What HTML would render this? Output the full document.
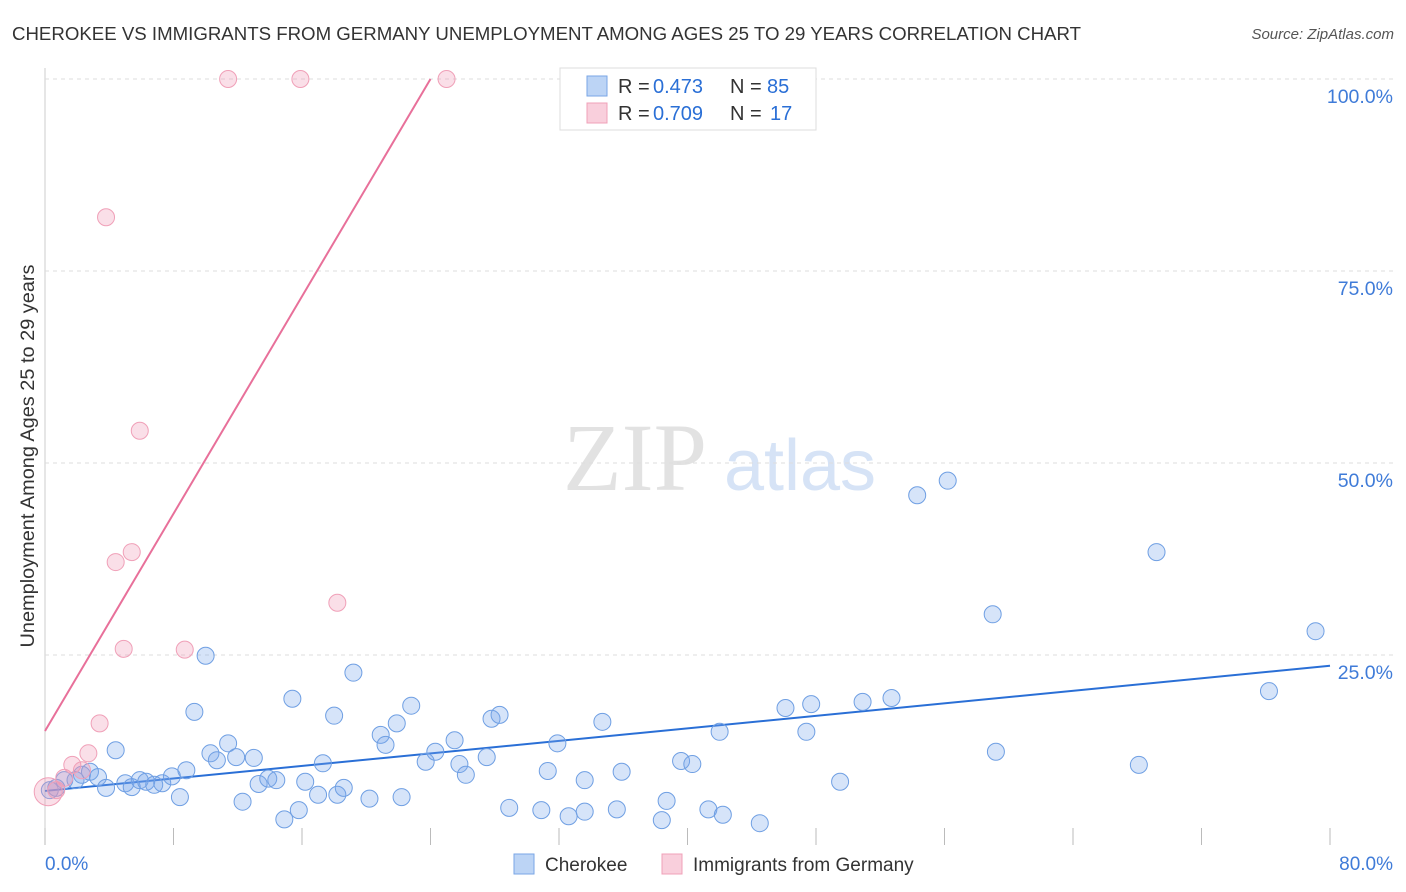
<!DOCTYPE html>
<html><head><meta charset="utf-8"><style>
body{margin:0;background:#fff;font-family:"Liberation Sans",sans-serif;}
svg{display:block}
</style></head><body>
<svg id="chart" width="1406" height="892">
<text x="12" y="40" font-size="18" fill="#333" textLength="1069" lengthAdjust="spacingAndGlyphs">CHEROKEE VS IMMIGRANTS FROM GERMANY UNEMPLOYMENT AMONG AGES 25 TO 29 YEARS CORRELATION CHART</text>
<text x="1394" y="39" font-size="15" fill="#555" font-style="italic" text-anchor="end">Source: ZipAtlas.com</text>
<g>
<text x="635" y="490" font-size="96" font-family="Liberation Serif,serif" fill="#e2e2e2" text-anchor="middle">ZIP</text>
<text x="800" y="490" font-size="72" fill="#d6e3f6" text-anchor="middle">atlas</text>
</g>
<text transform="translate(34,456) rotate(-90)" font-size="19" fill="#333" text-anchor="middle" textLength="383" lengthAdjust="spacingAndGlyphs">Unemployment Among Ages 25 to 29 years</text>
<g id="grid"></g><g id="ticks"></g><g id="trend"></g><g id="dots"></g>
<g>
<rect x="560" y="68" width="256" height="62" fill="#fff" stroke="#ddd"/>
<rect x="587" y="76" width="20" height="20" fill="#bcd4f5" stroke="#7aa6e6"/>
<text x="618" y="93" font-size="20" fill="#333">R =</text>
<text x="653" y="93" font-size="20" fill="#2a6fd6">0.473</text>
<text x="730" y="93" font-size="20" fill="#333">N =</text>
<text x="767" y="93" font-size="20" fill="#2a6fd6">85</text>
<rect x="587" y="103" width="20" height="20" fill="#f9cfdc" stroke="#f0a0b8"/>
<text x="618" y="120" font-size="20" fill="#333">R =</text>
<text x="653" y="120" font-size="20" fill="#2a6fd6">0.709</text>
<text x="730" y="120" font-size="20" fill="#333">N =</text>
<text x="770" y="120" font-size="20" fill="#2a6fd6">17</text>
</g>
<g>
<rect x="514" y="854" width="20" height="20" fill="#bcd4f5" stroke="#7aa6e6"/>
<text x="545" y="871" font-size="19" fill="#333">Cherokee</text>
<rect x="662" y="854" width="20" height="20" fill="#f9cfdc" stroke="#f0a0b8"/>
<text x="693" y="871" font-size="19" fill="#333">Immigrants from Germany</text>
</g>
</svg>
<script>
const blueX=[0.3,0.7,1.2,1.9,2.3,2.8,3.3,3.8,4.4,5.0,5.4,5.9,6.3,6.8,7.3,7.9,8.4,8.8,9.3,10.0,10.3,10.7,11.4,11.9,12.3,13.0,13.3,13.9,14.4,14.9,15.4,15.8,16.2,17.0,17.3,18.0,18.2,18.6,19.2,20.2,20.9,21.2,21.9,22.2,22.8,23.7,24.3,25.5,25.8,26.2,27.5,27.8,28.3,28.9,30.9,31.3,31.9,32.6,33.6,33.6,34.7,35.6,35.9,38.4,38.7,39.6,40.3,41.3,42.0,42.2,44.5,46.1,47.4,47.7,49.5,50.9,52.7,54.3,56.2,59.0,59.2,68.1,69.2,76.2,79.1];
const blueY=[7.4,7.7,8.7,8.7,9.4,9.8,9.1,7.7,12.6,8.3,7.8,8.7,8.5,8.1,8.3,9.2,6.5,10.0,17.6,24.9,12.2,11.3,13.5,11.7,5.9,11.6,8.2,8.9,8.7,3.6,19.3,4.8,8.5,6.8,10.9,17.1,6.8,7.7,22.7,6.3,14.6,13.3,16.1,6.5,18.4,11.1,12.4,13.9,10.8,9.4,11.7,16.7,17.2,5.1,4.8,9.9,13.5,4.0,4.6,8.7,16.3,4.9,9.8,3.5,6.0,11.2,10.8,4.9,15.0,4.2,3.1,18.1,15.0,18.6,8.5,18.9,19.4,45.8,47.7,30.3,12.4,10.7,38.4,20.3,28.1];
const pinkX=[0.2,0.7,1.2,1.7,2.3,2.7,3.4,3.8,4.4,4.9,5.4,5.9,8.7,11.4,15.9,18.2,25.0];
const pinkY=[7.2,7.4,9.0,10.7,10.0,12.2,16.1,82.0,37.1,25.8,38.4,54.2,25.7,100,100,31.8,100];
const blueTrend=[[0,7.3],[80,23.6]];
const pinkTrend=[[0,15.1],[24,100]];
const yTicks=[25,50,75,100];
const xTickVals=[0,8,16,24,32,40,48,56,64,72,80];
const X=v=>45+v*(1285/80), Y=v=>847-v*7.68;
const NS="http://www.w3.org/2000/svg";
function mk(tag,attrs,parent){const e=document.createElementNS(NS,tag);for(const k in attrs)e.setAttribute(k,attrs[k]);document.getElementById(parent).appendChild(e);return e;}
mk('line',{x1:45,y1:68,x2:45,y2:845,stroke:'#ccc'},'grid');
yTicks.forEach(t=>{
 const l=mk('line',{x1:45,x2:1394,y1:Y(t),y2:Y(t),stroke:'#ddd','stroke-dasharray':'4,4'},'grid');
 
 
 const tx=mk('text',{x:1393,y:Y(t)+24,'font-size':19.5,fill:'#3f7bd8','text-anchor':'end'},'ticks');
 tx.textContent=t.toFixed(1)+'%';
 
 
});
xTickVals.forEach(t=>{
 const l=mk('line',{x1:X(t),x2:X(t),y1:828,y2:845,stroke:'#bbb'},'ticks');
 
 
});
[[0,45,'start'],[80,1393,'end']].forEach(([v,x,a])=>{
 const tx=mk('text',{x:x,y:870,'font-size':19,fill:'#3f7bd8','text-anchor':a},'ticks');
 tx.textContent=v.toFixed(1)+'%';
 
 
});
const bl=mk('line',{x1:X(blueTrend[0][0]),y1:Y(blueTrend[0][1]),x2:X(blueTrend[1][0]),y2:Y(blueTrend[1][1]),stroke:'#2a6fd6','stroke-width':2},'trend');


const pl=mk('line',{x1:X(pinkTrend[0][0]),y1:Y(pinkTrend[0][1]),x2:X(pinkTrend[1][0]),y2:Y(pinkTrend[1][1]),stroke:'#e8709a','stroke-width':2},'trend');


blueX.forEach((v,i)=>{
 const c=mk('circle',{cx:X(v),cy:Y(blueY[i]),r:8.5,fill:'rgba(120,165,235,0.3)',stroke:'#6f9fe3','stroke-width':1},'dots');
 
 
});
pinkX.forEach((v,i)=>{
 const c=mk('circle',{cx:X(v),cy:Y(pinkY[i]),r:i==0?14:8.5,fill:'rgba(240,150,180,0.3)',stroke:'#f0a0b8','stroke-width':1},'dots');
 
 
});
</script>
</body></html>
